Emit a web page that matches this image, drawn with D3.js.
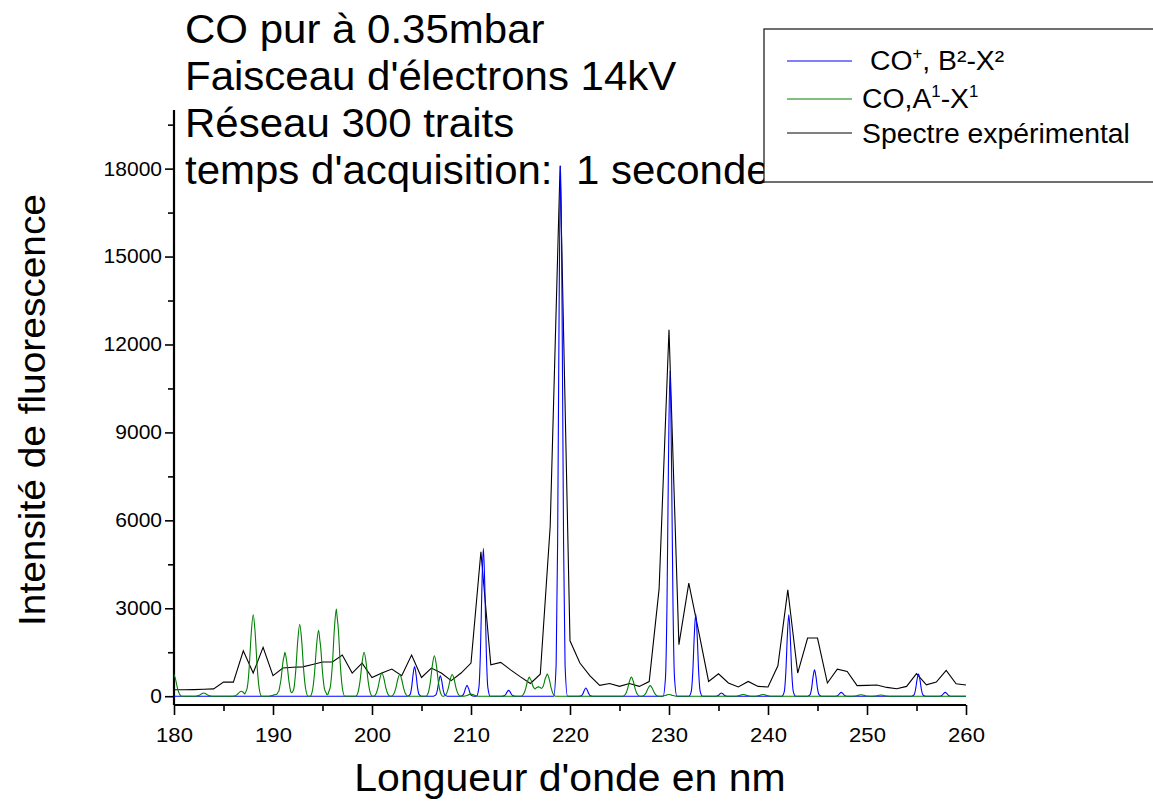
<!DOCTYPE html>
<html>
<head>
<meta charset="utf-8">
<script src="https://cdn.jsdelivr.net/npm/d3@7"></script>
<style>
  body { margin: 0; background: #fff; }
  svg { display: block; font-family: "Liberation Sans", Arial, sans-serif; }
</style>
</head>
<body>
<svg id="chart" width="1153" height="801"></svg>
<script>
// experimental spectrum, one point per nm
const expWave = [180, 181, 182, 183, 184, 185, 186, 187, 188, 189, 190, 191, 192, 193, 194, 195, 196, 197, 198, 199,
    200, 201, 202, 203, 204, 205, 206, 207, 208, 209, 210, 211, 212, 213, 214, 215, 216, 217, 218, 219,
    220, 221, 222, 223, 224, 225, 226, 227, 228, 229, 230, 231, 232, 233, 234, 235, 236, 237, 238, 239,
    240, 241, 242, 243, 244, 245, 246, 247, 248, 249, 250, 251, 252, 253, 254, 255, 256, 257, 258, 259, 260];
const expIntensity = [220, 220, 225, 235, 250, 480, 480, 1550, 790, 1665, 700, 960, 990, 1000, 1080, 1165, 1165, 1405, 790, 1130,
    640, 790, 925, 700, 1405, 640, 960, 790, 530, 790, 1130, 4930, 1075, 1155, 900, 660, 435, 750, 5800, 18100,
    1890, 1130, 700, 370, 435, 335, 435, 335, 500, 3660, 12500, 1760, 3860, 2200, 505, 767, 450, 314, 505, 334,
    314, 1040, 3630, 790, 1985, 1985, 450, 925, 845, 360, 370, 380, 300, 255, 335, 767, 390, 485, 880, 425, 380];

// simulated CO+ B-X lines (centre nm, peak intensity)
const coPlusCentre = [204.3, 206.9, 209.6, 211.25, 213.8, 219.05, 221.6, 230.1, 232.7, 235.3, 242.1, 244.7, 247.4, 255.2, 257.9];
const coPlusHeight = [1015, 700, 370, 5050, 200, 18100, 280, 11100, 2800, 110, 2780, 900, 130, 760, 130];

// simulated CO A-X lines
const coCentre = [179.95, 183.0, 186.8, 188.0, 190.3, 191.2, 192.7, 194.6, 195.6, 196.4, 199.2, 201.0, 202.8,
    206.3, 208.1, 210.0, 215.9, 216.8, 217.7, 226.2, 228.1, 230.0, 237.5, 239.5, 249.4, 251.4];
const coHeight = [760, 110, 170, 2780, 60, 1495, 2450, 2250, 60, 2970, 1500, 790, 740,
    1380, 740, 70, 650, 330, 760, 650, 360, 60, 60, 60, 50, 40];

const xTicks = [180, 190, 200, 210, 220, 230, 240, 250, 260];
const xMinor = [185, 195, 205, 215, 225, 235, 245, 255];
const yTicks = [0, 3000, 6000, 9000, 12000, 15000, 18000];
const yMinor = [1500, 4500, 7500, 10500, 13500, 16500, 19500];

const titleLines = ["CO pur à 0.35mbar", "Faisceau d'électrons 14kV", "Réseau 300 traits", "temps d'acquisition:  1 seconde"];

// line profiles of the simulated spectra
const blueShape = { dx: [-0.7, -0.45, -0.3, -0.15, 0, 0.15, 0.3, 0.45, 0.7], f: [0, 0.06, 0.29, 0.73, 1, 0.73, 0.29, 0.06, 0] };
const greenShape = { dx: [-0.85, -0.6, -0.4, -0.2, 0, 0.2, 0.4, 0.6, 0.85], f: [0, 0.1, 0.36, 0.77, 1, 0.77, 0.36, 0.1, 0] };

const K = 1.05; // horizontal stretch of the text
const font = "'Liberation Sans', Arial, sans-serif";
const plot = { left: 174, right: 966, top: 110, bottom: 705 };

const svg = d3.select("#chart");

const x = d3.scaleLinear().domain([180, 260]).range([plot.left, plot.right]);
const y = d3.scaleLinear().domain([-300, 20000]).range([plot.bottom, plot.top]);

svg.append("defs").append("clipPath").attr("id", "clip")
    .append("rect")
    .attr("x", plot.left)
    .attr("y", plot.top - 20)
    .attr("width", plot.right - plot.left)
    .attr("height", plot.bottom - plot.top + 20);

// axes
function styleAxis(g) {
    g.select(".domain").remove();
    g.attr("font-family", font);
    g.selectAll("line").attr("stroke", "#000").attr("stroke-width", 1.6);
    g.selectAll("text").attr("fill", "#000");
}

svg.append("g")
    .attr("transform", `translate(0,${plot.bottom})`)
    .call(d3.axisBottom(x).tickValues(xTicks).tickSize(10).tickPadding(12).tickFormat(d3.format("d")))
    .call(styleAxis)
    .attr("font-size", 21);

svg.append("g")
    .attr("transform", `translate(0,${plot.bottom})`)
    .call(d3.axisBottom(x).tickValues(xMinor).tickSize(6).tickFormat(""))
    .call(styleAxis);

svg.append("g")
    .attr("transform", `translate(${plot.left},0)`)
    .call(d3.axisLeft(y).tickValues(yTicks).tickSize(9).tickPadding(3).tickFormat(d3.format("d")))
    .call(styleAxis)
    .attr("font-size", 20);

svg.append("g")
    .attr("transform", `translate(${plot.left},0)`)
    .call(d3.axisLeft(y).tickValues(yMinor).tickSize(6).tickFormat(""))
    .call(styleAxis);

svg.append("line")
    .attr("x1", plot.left).attr("x2", plot.right)
    .attr("y1", plot.bottom).attr("y2", plot.bottom)
    .attr("stroke", "#000").attr("stroke-width", 2.2);
svg.append("line")
    .attr("x1", plot.left).attr("x2", plot.left)
    .attr("y1", plot.top).attr("y2", plot.bottom)
    .attr("stroke", "#000").attr("stroke-width", 2.2);

// series
function shapeAt(shape, d) {
    const n = shape.dx.length;
    if (d <= shape.dx[0] || d >= shape.dx[n - 1]) return 0;
    let i = 1;
    while (shape.dx[i] < d) i++;
    const t = (d - shape.dx[i - 1]) / (shape.dx[i] - shape.dx[i - 1]);
    return shape.f[i - 1] + t * (shape.f[i] - shape.f[i - 1]);
}

function lineTable(centres, heights, shape) {
    const xs = new Set([178, 262]);
    centres.forEach(c => shape.dx.forEach(d => xs.add(Math.round((c + d) * 1000) / 1000)));
    return Array.from(xs).sort((a, b) => a - b)
        .map(w => [w, d3.sum(centres, (c, i) => heights[i] * shapeAt(shape, w - c))]);
}

const series = svg.append("g").attr("clip-path", "url(#clip)");

const expLine = d3.line()
    .x((d, i) => x(expWave[i]))
    .y(d => y(d));

const simLine = d3.line()
    .x(d => x(d[0]))
    .y(d => y(d[1]))
    .curve(d3.curveMonotoneX);

series.append("path")
    .attr("d", expLine(expIntensity))
    .attr("fill", "none").attr("stroke", "#000").attr("stroke-width", 1.1);

series.append("path")
    .attr("d", simLine(lineTable(coPlusCentre, coPlusHeight, blueShape)))
    .attr("fill", "none").attr("stroke", "#0000ff").attr("stroke-width", 1.1);

series.append("path")
    .attr("d", simLine(lineTable(coCentre, coHeight, greenShape)))
    .attr("fill", "none").attr("stroke", "#008000").attr("stroke-width", 1.1);

// text block in the top left
svg.append("g")
    .selectAll("text")
    .data(titleLines)
    .join("text")
    .attr("x", 185)
    .attr("y", (d, i) => 42.7 + i * 47.2)
    .attr("font-size", 40)
    .style("white-space", "pre")
    .text(d => d);

// axis titles
svg.append("text")
    .attr("x", 570).attr("y", 791)
    .attr("text-anchor", "middle")
    .attr("font-size", 39)
    .text("Longueur d'onde en nm");

svg.append("text")
    .attr("transform", "translate(45,410) rotate(-90)")
    .attr("text-anchor", "middle")
    .attr("font-size", 37)
    .text("Intensité de fluorescence");

// legend
const legend = svg.append("g");
legend.append("rect")
    .attr("x", 764).attr("y", 29)
    .attr("width", 420).attr("height", 153)
    .attr("fill", "#fff").attr("stroke", "#222").attr("stroke-width", 1.3);

const legendRows = [
    { y: 61, color: "#0000ff" },
    { y: 99, color: "#008000" },
    { y: 133, color: "#000" }
];
legend.selectAll(".key")
    .data(legendRows)
    .join("line")
    .attr("x1", 787).attr("x2", 852)
    .attr("y1", d => d.y).attr("y2", d => d.y)
    .attr("stroke", d => d.color).attr("stroke-width", 1);

const t1 = legend.append("text").attr("x", 870).attr("y", 70).attr("font-size", 27);
t1.append("tspan").text("CO");
t1.append("tspan").attr("font-size", 16).attr("dy", -11).text("+");
t1.append("tspan").attr("dy", 11).text(", B²-X²");

const t2 = legend.append("text").attr("x", 862).attr("y", 108).attr("font-size", 27);
t2.append("tspan").text("CO,A");
t2.append("tspan").attr("font-size", 16).attr("dy", -11).text("1");
t2.append("tspan").attr("dy", 11).text("-X");
t2.append("tspan").attr("font-size", 16).attr("dy", -11).text("1");

legend.append("text").attr("x", 862).attr("y", 143).attr("font-size", 27).text("Spectre expérimental");

// widen every label a little, like the original rendering
svg.selectAll("text").each(function() {
    const len = this.getComputedTextLength();
    if (len > 0) {
        d3.select(this).attr("textLength", len * K).attr("lengthAdjust", "spacingAndGlyphs");
    }
});
</script>
</body>
</html>
